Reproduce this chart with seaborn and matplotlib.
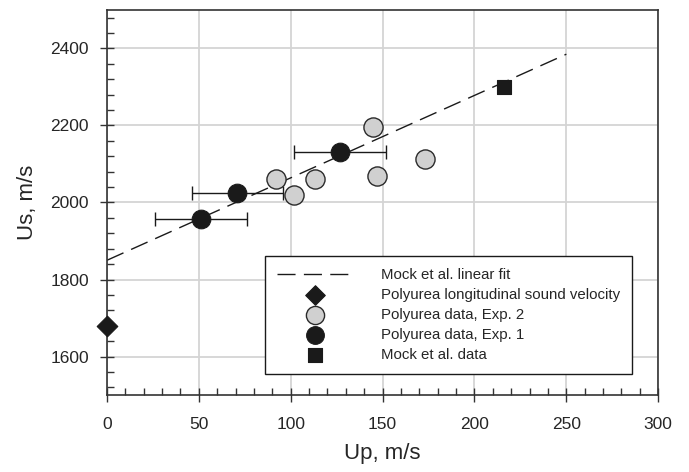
import matplotlib
matplotlib.use("Agg")
import matplotlib.pyplot as plt
from matplotlib.ticker import MultipleLocator
import seaborn as sns

# values
exp1_up = [51, 71, 127]
exp1_us = [1956, 2025, 2131]
exp1_err = [25, 25, 25]

exp2_up = [92, 102, 113, 145, 147, 173]
exp2_us = [2060, 2020, 2060, 2197, 2070, 2113]

mock_up = [216]
mock_us = [2300]

sound_up = [0]
sound_us = [1680]

fit_up = [0, 250]
fit_us = [1850, 2385]

sns.set_style("white")
plt.rcParams['font.family'] = ['Liberation Sans', 'DejaVu Sans']

fig = plt.figure(figsize=(6.89, 4.72), dpi=100)
ax = fig.add_axes([0.1553, 0.163, 0.8, 0.816])

# grid
ax.set_axisbelow(True)
ax.grid(True, which='major', color='#d4d4d4', lw=1.3)

# linear fit
sns.lineplot(x=fit_up, y=fit_us, ax=ax, color='#1a1a1a', lw=1,
             linestyle=(0, (13, 6)), label='Mock et al. linear fit', zorder=2)

# error bars for exp 1
ax.errorbar(exp1_up, exp1_us, xerr=exp1_err, fmt='none', ecolor='#1a1a1a',
            elinewidth=1, capsize=5, capthick=1, zorder=3)

sns.scatterplot(x=sound_up, y=sound_us, ax=ax, marker='D', s=110, color='#1a1a1a',
                edgecolor='#1a1a1a', linewidth=0.8, clip_on=False, zorder=5,
                label='Polyurea longitudinal sound velocity')
sns.scatterplot(x=exp2_up, y=exp2_us, ax=ax, marker='o', s=190, color='#d0d0d0',
                edgecolor='#2a2a2a', linewidth=1, zorder=4,
                label='Polyurea data, Exp. 2')
sns.scatterplot(x=exp1_up, y=exp1_us, ax=ax, marker='o', s=180, color='#1a1a1a',
                edgecolor='#1a1a1a', linewidth=0.8, zorder=5,
                label='Polyurea data, Exp. 1')
sns.scatterplot(x=mock_up, y=mock_us, ax=ax, marker='s', s=110, color='#1a1a1a',
                edgecolor='#1a1a1a', linewidth=0.8, zorder=5,
                label='Mock et al. data')

ax.set_xlim(0, 300)
ax.set_ylim(1500, 2500)
ax.xaxis.set_major_locator(MultipleLocator(50))
ax.xaxis.set_minor_locator(MultipleLocator(10))
ax.yaxis.set_major_locator(MultipleLocator(200))
ax.yaxis.set_minor_locator(MultipleLocator(40))
ax.set_yticks([1600, 1800, 2000, 2200, 2400])

ax.tick_params(which='major', direction='inout', length=10, width=1,
               color='#333333', labelsize=12.5, pad=8,
               bottom=True, left=True, top=False, right=False)
ax.tick_params(axis='x', which='major', pad=11)
ax.tick_params(which='minor', direction='in', length=5, width=1,
               color='#333333', bottom=True, left=True, top=False, right=False)

for s in ax.spines.values():
    s.set_color('#333333')
    s.set_linewidth(1.2)

ax.set_xlabel('Up, m/s', fontsize=16, labelpad=8)
ax.set_ylabel('Us, m/s', fontsize=16, labelpad=9)

handles, labels = ax.get_legend_handles_labels()
leg = ax.legend(handles, labels, loc='upper left', bbox_to_anchor=(0.287, 0.361),
                borderaxespad=0, fontsize=10.8, frameon=True, fancybox=False,
                edgecolor='#1a1a1a', framealpha=1, handlelength=5.1,
                handletextpad=1.8, labelspacing=0.4, borderpad=0.8,
                markerscale=0.95)
leg.get_frame().set_linewidth(1)

fig.savefig('out.png', dpi=100)
